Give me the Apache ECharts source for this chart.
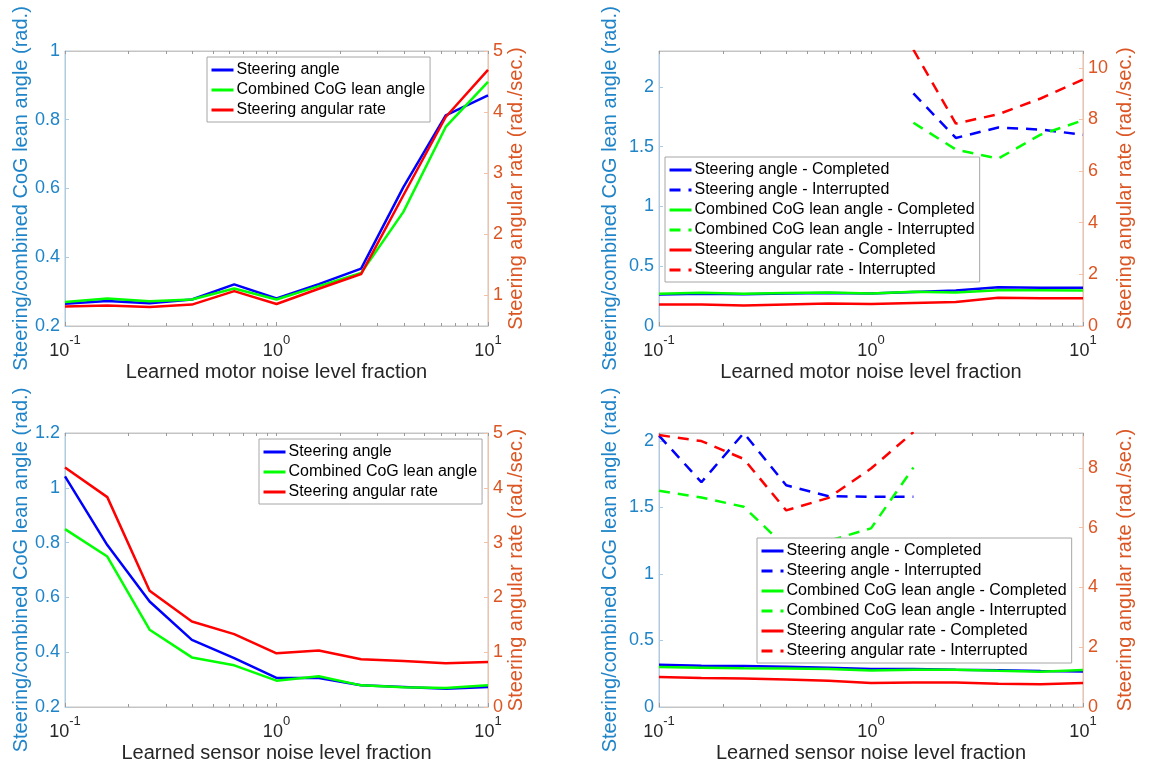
<!DOCTYPE html>
<html>
<head>
<meta charset="utf-8">
<script src="https://cdn.jsdelivr.net/npm/echarts@6/dist/echarts.min.js"></script>
<style>
html,body{margin:0;padding:0;background:#fff;}
#chart{width:1154px;height:767px;}
</style>
</head>
<body>
<div id="chart"></div>
<script>
// ---------- data ----------
const noiseLevels = [0.1, 0.1585, 0.2512, 0.3981, 0.631, 1, 1.585, 2.512, 3.981, 6.31, 10];

// top-left: motor noise
const motorSteerAngle = [0.265, 0.273, 0.266, 0.277, 0.321, 0.280, 0.322, 0.367, 0.604, 0.813, 0.871];
const motorLeanAngle  = [0.270, 0.280, 0.272, 0.277, 0.309, 0.277, 0.316, 0.354, 0.532, 0.779, 0.910];
const motorSteerRate  = [0.82, 0.836, 0.81, 0.85, 1.07, 0.86, 1.11, 1.35, 2.64, 3.92, 4.69];

// top-right: motor noise, completed / interrupted
const motorSteerAngleDone = [0.264, 0.270, 0.265, 0.272, 0.276, 0.272, 0.285, 0.297, 0.325, 0.320, 0.320];
const motorLeanAngleDone  = [0.270, 0.278, 0.270, 0.275, 0.280, 0.272, 0.286, 0.280, 0.300, 0.300, 0.297];
const motorSteerRateDone  = [0.83, 0.83, 0.79, 0.83, 0.87, 0.85, 0.89, 0.93, 1.09, 1.07, 1.07];
const motorSteerAngleInt  = [null, null, null, null, null, null, 1.945, 1.573, 1.66, 1.643, 1.60];
const motorLeanAngleInt   = [null, null, null, null, null, null, 1.70, 1.476, 1.40, 1.60, 1.72];
const motorSteerRateInt   = [null, null, null, null, null, null, 10.7, 7.84, 8.2, 8.81, 9.55];

// bottom-left: sensor noise
const sensorSteerAngle = [1.042, 0.791, 0.585, 0.445, 0.378, 0.306, 0.306, 0.279, 0.273, 0.267, 0.273];
const sensorLeanAngle  = [0.849, 0.749, 0.482, 0.381, 0.352, 0.296, 0.312, 0.279, 0.272, 0.269, 0.279];
const sensorSteerRate  = [4.37, 3.83, 2.12, 1.56, 1.33, 0.98, 1.03, 0.87, 0.84, 0.80, 0.82];

// bottom-right: sensor noise, completed / interrupted
const sensorSteerAngleDone = [0.317, 0.310, 0.308, 0.302, 0.295, 0.285, 0.285, 0.280, 0.276, 0.270, 0.267];
const sensorLeanAngleDone  = [0.300, 0.296, 0.292, 0.290, 0.285, 0.275, 0.280, 0.280, 0.272, 0.265, 0.278];
const sensorSteerRateDone  = [1.00, 0.97, 0.95, 0.92, 0.88, 0.80, 0.82, 0.82, 0.78, 0.76, 0.80];
const sensorSteerAngleInt  = [2.04, 1.69, 2.06, 1.667, 1.585, 1.58, 1.58, null, null, null, null];
const sensorLeanAngleInt   = [1.625, 1.575, 1.505, 1.2, 1.25, 1.343, 1.80, null, null, null, null];
const sensorSteerRateInt   = [9.1, 8.9, 8.3, 6.58, 7.0, 7.98, 9.2, null, null, null, null];

// axis ticks
const xMajorTicks = [0.1, 1, 10];
const xMinorTicks = [0.2, 0.3, 0.4, 0.5, 0.6, 0.7, 0.8, 0.9, 2, 3, 4, 5, 6, 7, 8, 9];
const leftTicksA  = [0.2, 0.4, 0.6, 0.8, 1];
const rightTicksA = [1, 2, 3, 4, 5];
const leftTicksB  = [0, 0.5, 1, 1.5, 2];
const rightTicksB = [0, 2, 4, 6, 8, 10];
const leftTicksC  = [0.2, 0.4, 0.6, 0.8, 1, 1.2];
const rightTicksC = [0, 1, 2, 3, 4, 5];
const leftTicksD  = [0, 0.5, 1, 1.5, 2];
const rightTicksD = [0, 2, 4, 6, 8];

const leftName  = 'Steering/combined CoG lean angle (rad.)';
const rightName = 'Steering angular rate (rad./sec.)';
const motorTitle = 'Learned motor noise level fraction';
const sensorTitle = 'Learned sensor noise level fraction';

// ---------- styling ----------
const FONT = "'Liberation Sans', Arial, Helvetica, sans-serif";
const BLUE = '#0000ff', GREEN = '#00ff00', RED = '#ff0000';
const LEFT_COL = '#1f84c8', LEFT_LINE = '#a8cdea';
const RIGHT_COL = '#db5624', RIGHT_LINE = '#f4c0a6';
const BOX = '#c4c4c4';
const TICK = '#9a9a9a';

const grids = [
  {left: 65,  top: 51,  width: 423, height: 275},
  {left: 659, top: 51,  width: 424, height: 275},
  {left: 65,  top: 433, width: 423, height: 274},
  {left: 659, top: 433, width: 424, height: 274}
];

function fmtNum(v) { return String(+(+v).toFixed(2)); }
const logPos = function (arr) { return arr.map(function (v) { return Math.log10(v); }); };

// data-carrying log axis (labels, major ticks, title)
function bottomX(gi, title) {
  return {
    type: 'log', logBase: 10, min: 0.1, max: 10, gridIndex: gi, position: 'bottom',
    axisLine: {show: true, onZero: false, lineStyle: {color: BOX, width: 1}},
    axisTick: {show: true, inside: true, length: 4, lineStyle: {color: TICK}},
    minorTick: {show: false},
    splitLine: {show: false}, minorSplitLine: {show: false},
    axisLabel: {
      margin: 8,
      formatter: function (v) {
        const e = Math.round(Math.log10(v));
        return '{b|10}{s|' + e + '}';
      },
      rich: {
        b: {fontFamily: FONT, fontSize: 18, color: '#262626', lineHeight: 26, verticalAlign: 'bottom'},
        s: {fontFamily: FONT, fontSize: 13, color: '#262626', lineHeight: 26, verticalAlign: 'top'}
      }
    },
    name: title, nameLocation: 'middle', nameGap: 36,
    nameTextStyle: {fontFamily: FONT, fontSize: 20, color: '#262626'}
  };
}
// tick-only axes in decade units (exponent of ten), for the minor log ticks
function tickX(gi, position, values, showLine) {
  return {
    type: 'value', min: -1, max: 1, gridIndex: gi, position: position, offset: 0,
    axisLine: {show: showLine, onZero: false, lineStyle: {color: BOX, width: 1}},
    axisTick: {show: true, inside: true, length: 3, customValues: logPos(values), lineStyle: {color: TICK}},
    axisLabel: {show: false}, splitLine: {show: false}
  };
}
function yAxisDef(gi, side, min, max, ticks, gap) {
  const left = side === 'left';
  const col = left ? LEFT_COL : RIGHT_COL;
  const lineCol = left ? LEFT_LINE : RIGHT_LINE;
  return {
    type: 'value', gridIndex: gi, position: side, min: min, max: max,
    axisLine: {show: true, onZero: false, lineStyle: {color: lineCol, width: 1}},
    axisTick: {show: true, inside: true, length: 4, customValues: ticks, lineStyle: {color: lineCol}},
    splitLine: {show: false},
    axisLabel: {customValues: ticks, formatter: fmtNum, color: col, fontFamily: FONT, fontSize: 18, margin: 5},
    name: left ? leftName : rightName, nameLocation: 'middle', nameRotate: 90, nameGap: gap,
    nameTextStyle: {color: col, fontFamily: FONT, fontSize: 20}
  };
}

function pts(ys) {
  const out = [];
  noiseLevels.forEach(function (x, i) { if (ys[i] != null) out.push([x, ys[i]]); });
  return out;
}
function line(name, ys, color, xi, yi, dashed) {
  return {
    type: 'line', name: name, data: pts(ys), xAxisIndex: xi, yAxisIndex: yi,
    symbol: 'none', showSymbol: false, silent: true, animation: false, clip: true,
    lineStyle: {color: color, width: 2.5, type: dashed ? [11, 8] : 'solid'},
    itemStyle: {color: color}
  };
}

const namesA = ['Steering angle', 'Combined CoG lean angle', 'Steering angular rate'];
const namesB = ['Steering angle - Completed', 'Steering angle - Interrupted',
                'Combined CoG lean angle - Completed', 'Combined CoG lean angle - Interrupted',
                'Steering angular rate - Completed', 'Steering angular rate - Interrupted'];

const series = [
  line(namesA[0], motorSteerAngle, BLUE, 0, 0),
  line(namesA[1], motorLeanAngle, GREEN, 0, 0),
  line(namesA[2], motorSteerRate, RED, 0, 1),

  line(namesB[0], motorSteerAngleDone, BLUE, 1, 2),
  line(namesB[1], motorSteerAngleInt, BLUE, 1, 2, true),
  line(namesB[2], motorLeanAngleDone, GREEN, 1, 2),
  line(namesB[3], motorLeanAngleInt, GREEN, 1, 2, true),
  line(namesB[4], motorSteerRateDone, RED, 1, 3),
  line(namesB[5], motorSteerRateInt, RED, 1, 3, true),

  line(namesA[0], sensorSteerAngle, BLUE, 2, 4),
  line(namesA[1], sensorLeanAngle, GREEN, 2, 4),
  line(namesA[2], sensorSteerRate, RED, 2, 5),

  line(namesB[0], sensorSteerAngleDone, BLUE, 3, 6),
  line(namesB[1], sensorSteerAngleInt, BLUE, 3, 6, true),
  line(namesB[2], sensorLeanAngleDone, GREEN, 3, 6),
  line(namesB[3], sensorLeanAngleInt, GREEN, 3, 6, true),
  line(namesB[4], sensorSteerRateDone, RED, 3, 7),
  line(namesB[5], sensorSteerRateInt, RED, 3, 7, true)
];

function legendDef(names, left, top) {
  return {
    data: names, orient: 'vertical', left: left, top: top,
    padding: [5, 5, 4, 3], itemWidth: 22, itemHeight: 14, itemGap: 4,
    backgroundColor: '#fff', borderColor: '#a6a6a6', borderWidth: 1, borderRadius: 0,
    selectedMode: false,
    itemStyle: {color: 'rgba(0,0,0,0)', borderColor: 'rgba(0,0,0,0)', borderWidth: 0, opacity: 0},
    lineStyle: {width: 3},
    textStyle: {fontFamily: FONT, fontSize: 16, color: '#000', padding: [0, 0, 0, -2]}
  };
}

const xAxes = [
  bottomX(0, motorTitle), bottomX(1, motorTitle), bottomX(2, sensorTitle), bottomX(3, sensorTitle)
];
[0, 1, 2, 3].forEach(function (gi) {
  xAxes.push(tickX(gi, 'bottom', xMinorTicks, false));
  xAxes.push(tickX(gi, 'top', xMajorTicks.concat(xMinorTicks), true));
});

const option = {
  animation: false,
  backgroundColor: '#fff',
  grid: grids.map(function (g) {
    return Object.assign({show: true, borderColor: BOX, borderWidth: 1, backgroundColor: 'transparent', containLabel: false}, g);
  }),
  xAxis: xAxes,
  yAxis: [
    yAxisDef(0, 'left', 0.2, 1, leftTicksA, 34),
    yAxisDef(0, 'right', 0.5, 5, rightTicksA, 17),
    yAxisDef(1, 'left', 0, 2.3, leftTicksB, 39),
    yAxisDef(1, 'right', 0, 10.65, rightTicksB, 32),
    yAxisDef(2, 'left', 0.2, 1.2, leftTicksC, 34),
    yAxisDef(2, 'right', 0, 5, rightTicksC, 17),
    yAxisDef(3, 'left', 0, 2.06, leftTicksD, 39),
    yAxisDef(3, 'right', 0, 9.17, rightTicksD, 32)
  ],
  legend: [
    legendDef(namesA, 207, 57),
    legendDef(namesB, 665, 157),
    legendDef(namesA, 259, 439),
    legendDef(namesB, 757, 538)
  ],
  series: series
};

const chart = echarts.init(document.getElementById('chart'), null, {renderer: 'canvas'});
chart.setOption(option);
</script>
</body>
</html>
